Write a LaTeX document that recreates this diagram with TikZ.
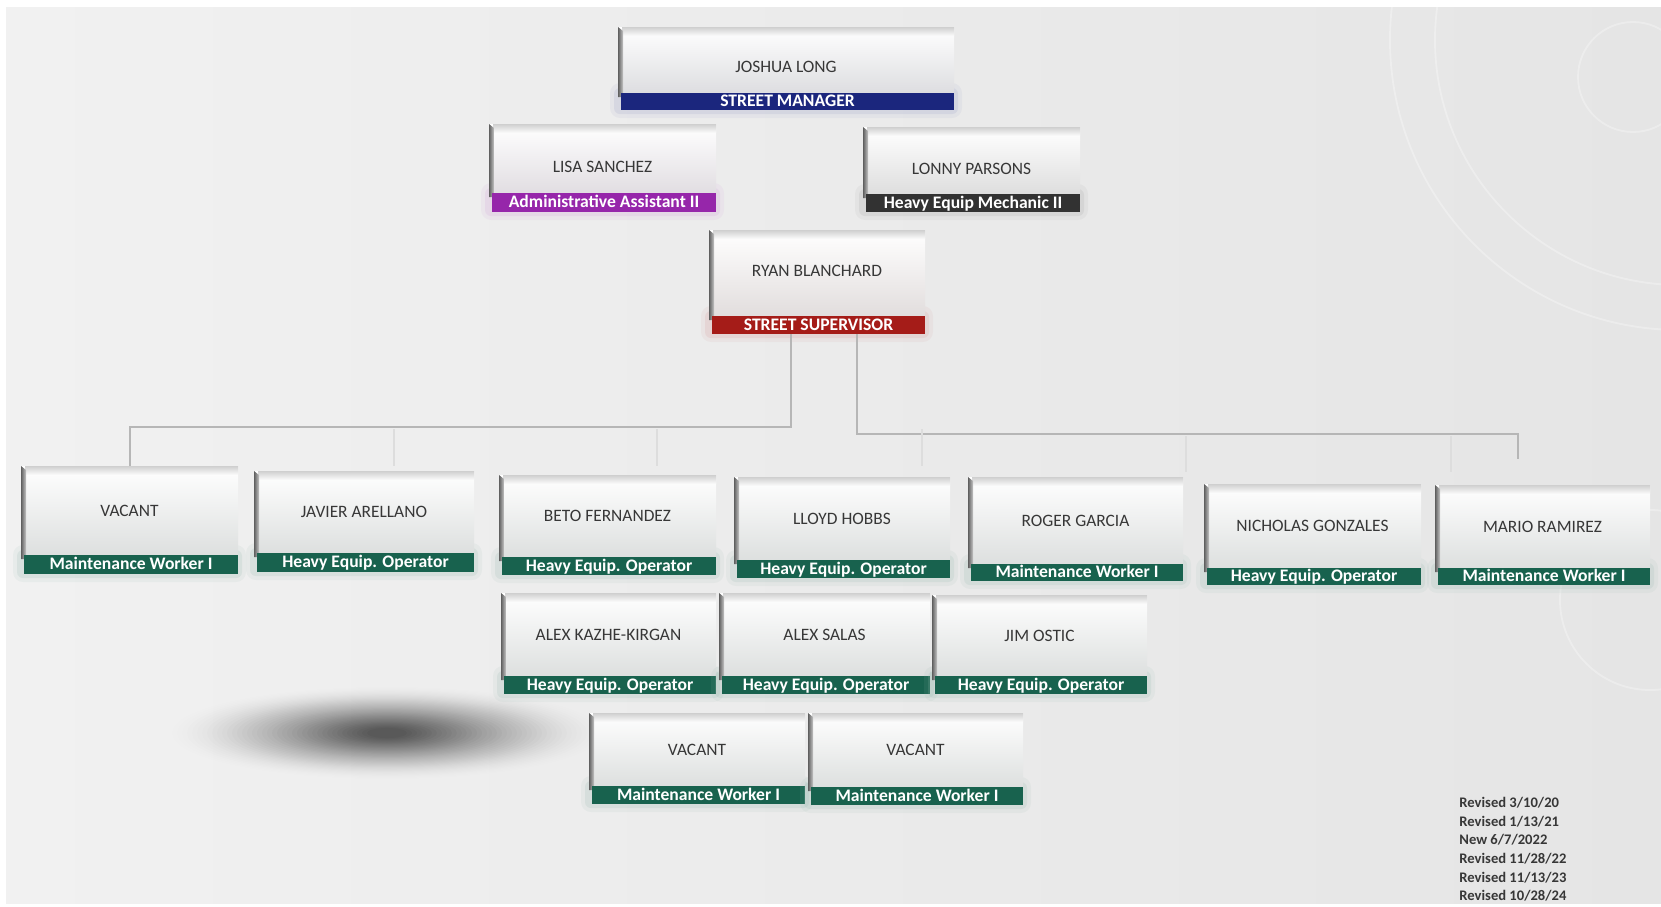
\documentclass[tikz,border=0pt]{standalone}
\usepackage{fontspec}
\setmainfont{Carlito}
\usetikzlibrary{fit,calc}

\definecolor{bgA}{RGB}{241,241,241}
\definecolor{bgB}{RGB}{229,229,229}
\definecolor{mgrBlue}{RGB}{27,38,125}
\definecolor{admPurple}{RGB}{150,38,170}
\definecolor{mechGray}{RGB}{50,50,50}
\definecolor{supRed}{RGB}{165,28,24}
\definecolor{crewGreen}{RGB}{24,98,78}
\definecolor{nameInk}{RGB}{55,55,55}
\definecolor{connGray}{RGB}{182,182,182}
\definecolor{tickGray}{RGB}{221,221,221}
\definecolor{revInk}{RGB}{55,55,55}

\tikzset{
  nametext/.style={text=nameInk, font=\fontsize{8.7}{10}\selectfont, inner sep=0pt},
  titletext/.style={text=white, font=\bfseries\fontsize{8.8}{10}\selectfont, inner sep=0pt,
                    text height=1.45ex, text depth=0.35ex},
  bandbox/.style={inner sep=0pt, draw=none},
  cardframe/.style={inner sep=0pt, draw=none},
  conn/.style={draw=connGray, line width=1pt},
  tick/.style={draw=tickGray, line width=0.8pt},
  ring/.style={draw=white, line width=0.9pt, opacity=0.3},
  revtext/.style={text=revInk, font=\bfseries\fontsize{7.3}{9.3}\selectfont, inner sep=0pt, align=left},
}

% vertical nudge of the name inside a card (in picture units)
\def\nameshift{0}

% #1 id, #2 left, #3 top, #4 right, #5 band top, #6 bottom, #7 band colour, #8 name, #9 title
\newcommand{\orgcard}[9]{%
  \fill[#7!45!white, opacity=0.10, rounded corners=5pt] (#2-8,#5-10) rectangle (#4+8,#6+8);
  \fill[#7!45!white, opacity=0.18, rounded corners=3pt] (#2-4,#5-5) rectangle (#4+4,#6+4);
  \shade[top color=white, middle color=white, bottom color=#7!14!gray!24] (#2,#3) rectangle (#4,#5);
  \shade[top color=gray!38, bottom color=gray!6] (#2+4,#3) rectangle (#4,#3+8);
  \shade[left color=gray!75!black, right color=gray!45] (#2,#3) -- (#2+5,#3+4) -- (#2+5,#5+4) -- (#2,#5+4) -- cycle;
  \node[cardframe, fit={(#2,#3) (#4,#6)}] (#1) {};
  \node[nametext] (#1n) at ($(#2,#3)!0.5!(#4,#5)+(0,\nameshift)$) {#8};
  \node[bandbox, fill=#7, fit={(#2+3,#5) (#4,#6)}] (#1t) {};
  \node[titletext] (#1l) at (#1t.center) {#9};
}

\begin{document}
\begin{tikzpicture}[x=0.5pt,y=-0.5pt]
\useasboundingbox (0,0) rectangle (1661,906);
\fill[white] (0,0) rectangle (1661,906);
\shade[left color=bgA, right color=bgB] (6,7) rectangle (1661,903);

% faint decorative rings on the right
\begin{scope}
  \clip (6,7) rectangle (1661,903);
  \draw[ring] (1633,77) circle (55);
  \draw[ring] (1680,40) circle (290);
  \draw[ring] (1680,40) circle (245);
  \draw[ring] (1650,600) circle (90);
\end{scope}

% soft floor shadow, built from stacked translucent ellipses
\foreach \i in {0,...,39}{
  \pgfmathsetmacro{\op}{0.004+0.0009*\i}
  \fill[black, opacity=\op] (387,733) ellipse ({215-5*\i} and {46-1.05*\i});
}

% cards
\def\nameshift{7}
\orgcard{josh}{618}{27}{954}{93}{110}{mgrBlue}{JOSHUA LONG}{STREET MANAGER}
\def\nameshift{8}
\orgcard{lisa}{489}{124}{716}{193}{212}{admPurple}{LISA SANCHEZ}{Administrative Assistant II}
\orgcard{lonny}{863}{127}{1080}{194}{212}{mechGray}{LONNY PARSONS}{Heavy Equip Mechanic II}
\def\nameshift{-2}
\orgcard{ryan}{709}{230}{925}{316}{334}{supRed}{RYAN BLANCHARD}{STREET SUPERVISOR}
\def\nameshift{0}

\orgcard{vacA}{21}{466}{238}{555}{574}{crewGreen}{VACANT}{Maintenance Worker I}
\orgcard{javier}{254}{471}{474}{553}{572}{crewGreen}{JAVIER ARELLANO}{Heavy Equip. Operator}
\orgcard{beto}{499}{475}{716}{557}{575}{crewGreen}{BETO FERNANDEZ}{Heavy Equip. Operator}
\orgcard{lloyd}{734}{477}{950}{560}{578}{crewGreen}{LLOYD HOBBS}{Heavy Equip. Operator}
\orgcard{roger}{968}{477}{1183}{564}{581}{crewGreen}{ROGER GARCIA}{Maintenance Worker I}
\orgcard{nich}{1204}{484}{1421}{568}{585}{crewGreen}{NICHOLAS GONZALES}{Heavy Equip. Operator}
\orgcard{mario}{1435}{485}{1650}{568}{585}{crewGreen}{MARIO RAMIREZ}{Maintenance Worker I}

\orgcard{alexk}{501}{593}{716}{676}{694}{crewGreen}{ALEX KAZHE-KIRGAN}{Heavy Equip. Operator}
\orgcard{alexs}{719}{593}{930}{676}{694}{crewGreen}{ALEX SALAS}{Heavy Equip. Operator}
\orgcard{jim}{932}{595}{1147}{676}{694}{crewGreen}{JIM OSTIC}{Heavy Equip. Operator}

\orgcard{vacB}{589}{713}{805}{786}{804}{crewGreen}{VACANT}{Maintenance Worker I}
\orgcard{vacC}{808}{713}{1023}{787}{805}{crewGreen}{VACANT}{Maintenance Worker I}

% reporting lines
\coordinate (busL) at ($(vacA.north)+(0,-39)$);
\coordinate (dropR) at ($(mario.north)+(-25,-26)$);
\draw[conn] ($(ryant.south)+(-28,0)$) |- (busL) -- (vacA.north);
\draw[conn] ($(ryant.south)+(38,0)$) |- ($(dropR)+(0,-25)$) -- (dropR);

% faint stubs under the bus
\foreach \x in {394,657,922}{\draw[tick] (\x,429) -- (\x,466);}
\foreach \x in {1186,1451}{\draw[tick] (\x,436) -- (\x,472);}

% revision history
\node[revtext, anchor=north west] (rev) at (1459,797)
  {Revised 3/10/20\\Revised 1/13/21\\New 6/7/2022\\Revised 11/28/22\\Revised 11/13/23\\Revised 10/28/24};
\end{tikzpicture}
\end{document}
